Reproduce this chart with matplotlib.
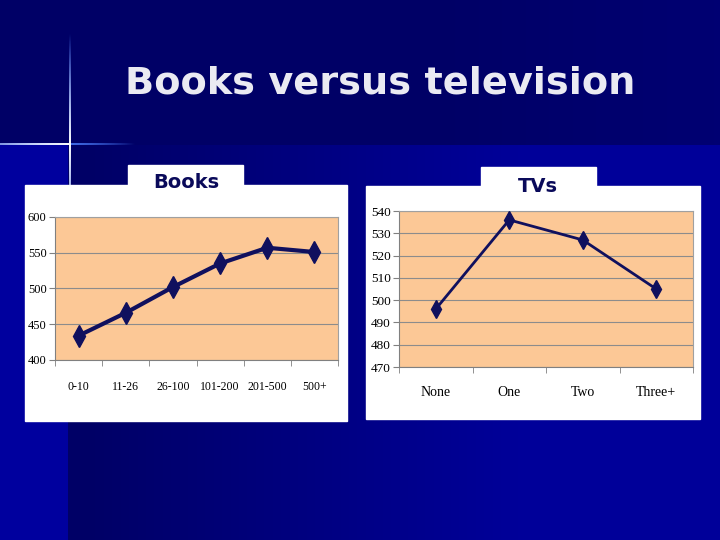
import numpy as np
import matplotlib
matplotlib.use('agg')
import matplotlib.pyplot as plt
from matplotlib.patches import Rectangle

# data
book_cats = ['0-10', '11-26', '26-100', '101-200', '201-500', '500+']
book_scores = [434, 466, 502, 535, 557, 551]
book_ticks = [400, 450, 500, 550, 600]

tv_cats = ['None', 'One', 'Two', 'Three+']
tv_scores = [496, 536, 527, 505]
tv_ticks = [470, 480, 490, 500, 510, 520, 530, 540]

W, H = 720, 540
fig = plt.figure(figsize=(7.2, 5.4), dpi=100)

# background gradient
bg = fig.add_axes([0, 0, 1, 1])
xx = np.linspace(0, 1, W)
img = np.zeros((H, W, 3))
img[:145, :] = [0.0, 0.0, 0.40]
img[:145, :, 2] += np.clip((xx - 0.6) * 0.12, 0, 1)[None, :]
grad = np.clip((xx - 0.12) / 0.6, 0, 1)
img[145:, :, 2] = (0.40 + grad * 0.20)[None, :]
img[145:, :68] = [0.0, 0.0, 0.62]
bg.imshow(img, extent=[0, W, H, 0], aspect='auto')
# sparkle lines
for i in range(130):
    a = 1 - i / 130
    bg.plot([70 - i - 1, 70 - i], [144, 144], color=(0.3 + 0.7 * a, 0.5 + 0.5 * a, 1), alpha=min(1, a * 1.2), lw=1.2)
    bg.plot([70 + i / 2, 70 + i / 2 + 0.5], [144, 144], color=(0.3, 0.5, 1), alpha=a * 0.6, lw=1.2)
for i in range(110):
    a = 1 - i / 110
    bg.plot([70, 70], [144 - i - 1, 144 - i], color=(0.3 + 0.7 * a, 0.5 + 0.5 * a, 1), alpha=a, lw=1.2)
    bg.plot([70, 70], [144 + i, 144 + i + 1], color=(0.3 + 0.7 * a, 0.5 + 0.5 * a, 1), alpha=a, lw=1.2)
bg.set_xlim(0, W)
bg.set_ylim(H, 0)
bg.axis('off')

# white panels and label boxes
bg.add_patch(Rectangle((25, 185), 322, 236, color='white', zorder=3))
bg.add_patch(Rectangle((128, 165), 115, 25, color='white', zorder=3))
bg.add_patch(Rectangle((366, 186), 334, 233, color='white', zorder=3))
bg.add_patch(Rectangle((481, 167), 115, 25, color='white', zorder=3))

fig.text(380 / W, 1 - 83 / H, 'Books versus television', color='#eaeaf2',
         fontsize=27.5, fontweight='bold', ha='center', va='center', family='DejaVu Sans')
fig.text(186 / W, 1 - 183 / H, 'Books', color='#0a0a5a', fontsize=14,
         fontweight='bold', ha='center', va='center')
fig.text(538 / W, 1 - 186 / H, 'TVs', color='#0a0a5a', fontsize=14,
         fontweight='bold', ha='center', va='center')


def draw(rect, cats, vals, ticks, lw, ms, tfs, xfs, xpad):
    ax = fig.add_axes(rect)
    ax.set_facecolor('#fcc896')
    x = np.arange(len(cats))
    ax.plot(x, vals, color='#10105e', lw=lw, marker='d', ms=ms, zorder=3)
    ax.set_xlim(-0.5, len(cats) - 0.5)
    ax.set_ylim(ticks[0], ticks[-1])
    ax.set_yticks(ticks)
    ax.set_yticklabels([str(t) for t in ticks], family='Liberation Serif', fontsize=tfs)
    ax.set_xticks(x)
    ax.set_xticklabels(cats, family='Liberation Serif', fontsize=xfs)
    ax.set_xticks(np.arange(len(cats) + 1) - 0.5, minor=True)
    ax.tick_params(axis='x', which='major', length=0, pad=xpad)
    ax.tick_params(axis='x', which='minor', length=4, color='#808080')
    ax.tick_params(axis='y', length=4, color='#808080', pad=2)
    ax.grid(axis='y', color='#8c8c8c', lw=0.8)
    ax.set_axisbelow(True)
    for s in ['top', 'right']:
        ax.spines[s].set_color('#a0a0a0')
        ax.spines[s].set_linewidth(0.8)
    for s in ['left', 'bottom']:
        ax.spines[s].set_color('#808080')
        ax.spines[s].set_linewidth(0.8)
    return ax


draw([55 / W, 1 - 360 / H, 283 / W, 143 / H], book_cats, book_scores, book_ticks, 3, 11, 9, 8.5, 15)
draw([399 / W, 1 - 367 / H, 294 / W, 156 / H], tv_cats, tv_scores, tv_ticks, 2, 9, 9.5, 10, 14)

fig.savefig('out.png', dpi=100)
